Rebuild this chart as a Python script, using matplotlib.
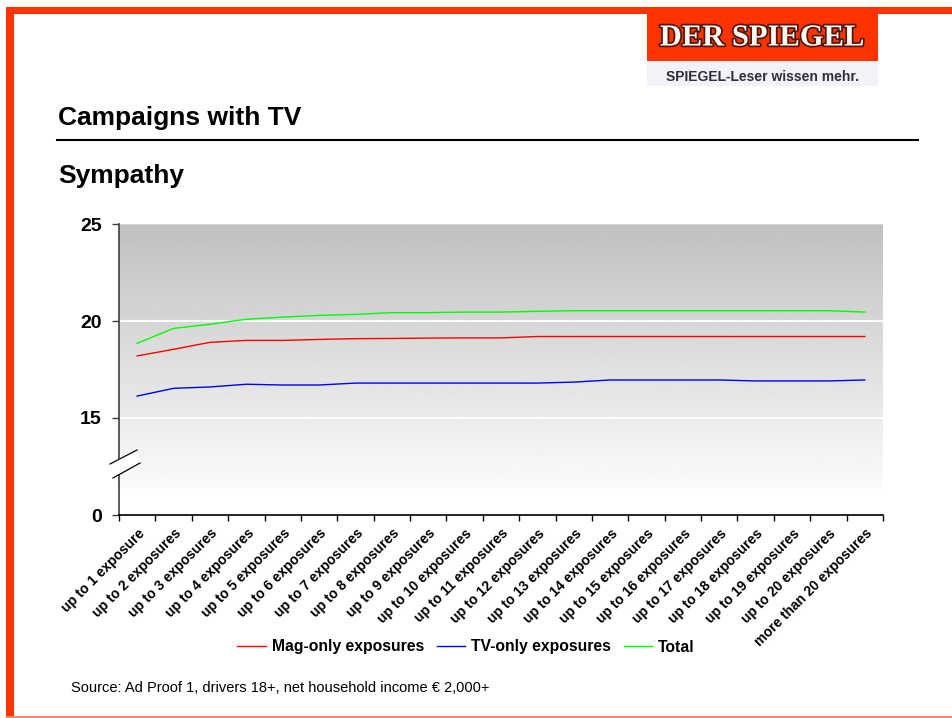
import numpy as np
import matplotlib
matplotlib.use("Agg")
import matplotlib.pyplot as plt
from matplotlib.patches import Rectangle, Polygon
from matplotlib.lines import Line2D
import matplotlib.patheffects as pe
import matplotlib.transforms as mtransforms

plt.rcParams['font.family'] = ['Liberation Sans', 'DejaVu Sans']

categories = ["up to 1 exposure"] + [f"up to {i} exposures" for i in range(2, 21)] + ["more than 20 exposures"]
mag_only = [18.20, 18.54, 18.90, 19.00, 19.00, 19.05, 19.09, 19.10, 19.12, 19.13, 19.13,
            19.20, 19.20, 19.20, 19.20, 19.20, 19.20, 19.20, 19.20, 19.20, 19.20]
tv_only = [16.13, 16.53, 16.60, 16.74, 16.70, 16.70, 16.80, 16.80, 16.80, 16.80, 16.80,
           16.80, 16.85, 16.96, 16.96, 16.96, 16.96, 16.91, 16.91, 16.91, 16.96]
total = [18.85, 19.62, 19.83, 20.09, 20.20, 20.29, 20.34, 20.43, 20.43, 20.46, 20.46,
         20.50, 20.53, 20.53, 20.53, 20.53, 20.53, 20.53, 20.53, 20.53, 20.46]
series_names = ["Mag-only exposures", "TV-only exposures", "Total"]
series_colors = ["#ff0000", "#0000ff", "#00ff00"]
ytick_values = [10, 15, 20, 25]
ytick_labels = ["0", "15", "20", "25"]

W, H = 953, 718
fig = plt.figure(figsize=(W / 100, H / 100), dpi=100)
fig.patch.set_facecolor("white")

def fx(x):
    return x / W

def fy(y):
    return 1 - y / H

RED = "#ff3300"
# frame
fig.patches.append(Rectangle((fx(6), fy(14)), fx(947), 7 / H, transform=fig.transFigure,
                             facecolor=RED, edgecolor="none", zorder=1))
fig.patches.append(Rectangle((fx(6), fy(717)), 8 / W, (717 - 7) / H, transform=fig.transFigure,
                             facecolor=RED, edgecolor="none", zorder=1))
fig.patches.append(Rectangle((fx(6), fy(718)), fx(947), 2 / H, transform=fig.transFigure,
                             facecolor="#ff8a66", edgecolor="none", zorder=1))

# logo
fig.patches.append(Rectangle((fx(647), fy(61)), 231 / W, 54 / H, transform=fig.transFigure,
                             facecolor=RED, edgecolor="none", zorder=2))
fig.patches.append(Rectangle((fx(647), fy(86)), 231 / W, 25 / H, transform=fig.transFigure,
                             facecolor="#f4f2f8", edgecolor="none", zorder=2))
fig.text(fx(762), fy(38), "DER SPIEGEL", ha="center", va="center", fontsize=22,
         family=["Liberation Serif", "DejaVu Serif"], fontweight="bold", color="#fff8ee", zorder=3,
         path_effects=[pe.withStroke(linewidth=2.5, foreground="#4a1810")])
fig.text(fx(763), fy(77), "SPIEGEL-Leser wissen mehr.", ha="center", va="center", fontsize=10,
         fontweight="bold", color="#2e2e3c", zorder=3)

# titles
fig.text(fx(58), fy(118), "Campaigns with TV", ha="left", va="center", fontsize=19,
         fontweight="bold", color="black")
fig.add_artist(Line2D([fx(57), fx(918)], [fy(140), fy(140)], transform=fig.transFigure,
                      color="black", lw=1.5))
fig.text(fx(58), fy(176), "Sympathy", ha="left", va="center", fontsize=19,
         fontweight="bold", color="black")

# axes
ax = fig.add_axes([fx(119), fy(515), (883 - 119) / W, (515 - 224) / H])
n = len(categories)
x = np.arange(n)
ax.set_xlim(-0.5, n - 0.5)
ax.set_ylim(10, 25)

grad = np.linspace(0.755, 0.985, 256).reshape(-1, 1)
ax.imshow(grad, extent=(-0.5, n - 0.5, 11.35, 25), origin="upper", aspect="auto",
          cmap="gray", vmin=0, vmax=1, zorder=0)
ax.set_facecolor("white")
for yv in (15, 20):
    ax.axhline(yv, color="white", lw=1.3, zorder=1)
ax.axhline(25, color="#d9d9d9", lw=1.3, zorder=1)

for vals, name, col in zip([mag_only, tv_only, total], series_names, series_colors):
    ax.plot(x, vals, color=col, lw=1.0, label=name, zorder=3)

for s in ("top", "right"):
    ax.spines[s].set_visible(False)
ax.spines["left"].set_color("#404040")
ax.spines["left"].set_linewidth(1.2)
ax.spines["bottom"].set_color("black")
ax.spines["bottom"].set_linewidth(1.2)

ax.set_yticks(ytick_values)
ax.set_yticklabels(ytick_labels, fontsize=14, fontweight="bold")
ax.tick_params(axis="y", direction="out", length=5, width=1, color="#404040", pad=7.5)

ax.set_xticks(np.arange(-0.5, n, 1.0))
ax.set_xticklabels([])
ax.tick_params(axis="x", which="major", direction="out", length=4, width=1, color="black")
ax.set_xticks(x, minor=True)
ax.set_xticklabels(categories, minor=True, rotation=45, ha="right", rotation_mode="anchor",
                   fontsize=10, fontweight="bold")
ax.tick_params(axis="x", which="minor", length=0, pad=8)
offset = mtransforms.ScaledTranslation(0.5 / 100, 0, fig.dpi_scale_trans)
for lab in ax.get_xticklabels(minor=True):
    lab.set_transform(lab.get_transform() + offset)

# axis break marks
brk = Polygon([(fx(109), fy(464)), (fx(137), fy(449)), (fx(141), fy(463)), (fx(113), fy(478))],
              closed=True, transform=fig.transFigure, facecolor="white", edgecolor="none", zorder=5)
fig.patches.append(brk)
fig.add_artist(Line2D([fx(110), fx(137)], [fy(464), fy(450)], transform=fig.transFigure,
                      color="black", lw=0.9, zorder=6))
fig.add_artist(Line2D([fx(113), fx(140)], [fy(478), fy(463)], transform=fig.transFigure,
                      color="black", lw=0.9, zorder=6))

# legend
leg = fig.legend(loc="center", bbox_to_anchor=(fx(466), fy(647)), ncol=3, frameon=False,
                 prop={"size": 11.3, "weight": "bold"}, handlelength=1.8, handletextpad=0.4,
                 columnspacing=0.8)
for h in leg.get_lines():
    h.set_linewidth(1.0)

fig.text(fx(71), fy(688), "Source: Ad Proof 1, drivers 18+, net household income € 2,000+",
         ha="left", va="center", fontsize=10.5, color="black")

fig.savefig("out.png", dpi=100)
